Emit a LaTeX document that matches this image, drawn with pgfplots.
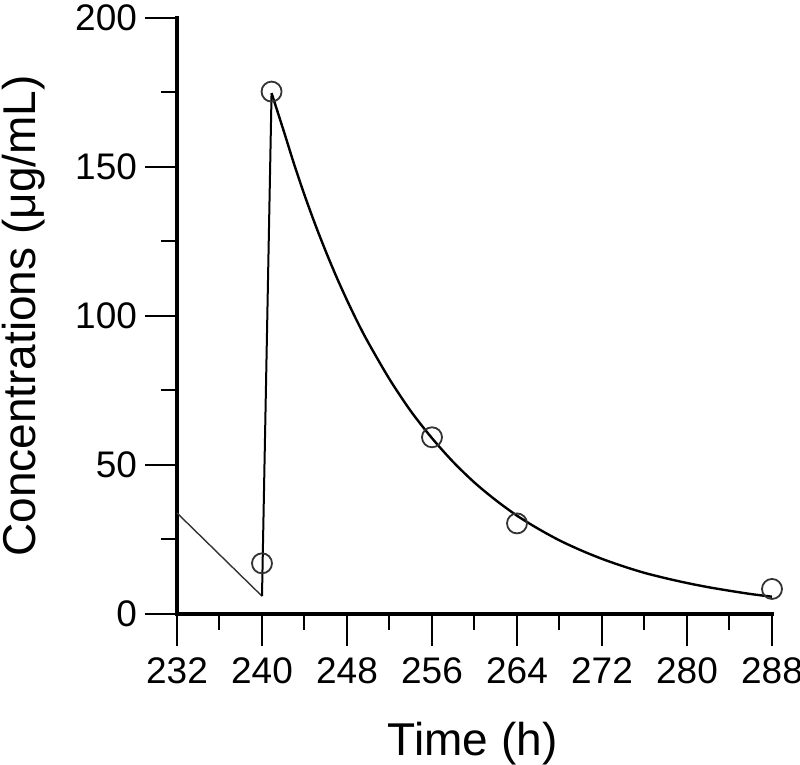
\documentclass[border=0pt]{standalone}
\usepackage{fontspec}
\setmainfont{Liberation Sans}
\usepackage{pgfplots}
\pgfplotsset{compat=1.18}

\begin{document}
\begin{tikzpicture}
  \useasboundingbox (-88.5pt,-75.5pt) rectangle (311.5pt,307pt);
  \begin{axis}[
      scale only axis,
      width=297.5pt,
      height=298pt,
      xmin=232, xmax=288,
      ymin=0, ymax=200,
      axis lines=left,
      axis line style={-, line width=1.75pt, line cap=rect},
      xtick={232,240,...,288},
      ytick={0,50,...,200},
      minor x tick num=1,
      minor y tick num=1,
      tick align=outside,
      major tick length=16pt,
      minor tick length=8pt,
      tick style={black, line width=1pt},
      tick label style={font=\fontsize{18.5}{22}\selectfont},
      xticklabel style={yshift=-2.5pt},
      yticklabel style={xshift=-0.5pt},
      /pgf/number format/assume math mode=true,
      xlabel={Time (h)},
      ylabel={Concentrations (μg/mL)},
      every axis x label/.style={at={(axis description cs:0.497,-0.2366)}, anchor=base,
        font=\fontsize{23}{27}\selectfont},
      every axis y label/.style={at={(axis description cs:-0.237,0.5)}, rotate=90, anchor=base,
        font=\fontsize{23}{27}\selectfont},
      clip=false,
    ]
    % pre-dose tail
    \addplot[black!80, line width=0.7pt] coordinates {(232,33.9) (240,6.0)};
    % infusion rise
    \addplot[black, line width=1pt] coordinates {(240,6.0) (240.9,174.8)};
    % post-dose decline
    \addplot[black, line width=1.2pt, smooth] coordinates {
      (240.9,174.8) (242,162.6) (243,151.2) (244,140.6) (245,130.8)
      (246,121.7) (247,113.2) (248,105.3) (249,97.9) (250,91.1)
      (252,78.8) (254,68.1) (256,59.0) (258,51.0) (260,44.1)
      (262,38.2) (264,33.0) (266,28.6) (268,24.7) (270,21.4)
      (272,18.5) (274,16.0) (276,13.8) (278,12.0) (280,10.4)
      (282,9.0) (284,7.8) (286,6.7) (288,5.8)};
    % observed concentrations
    \addplot[only marks, mark=o, mark size=5pt, mark options={black!80, line width=0.9pt}]
      coordinates {(240,17.0) (240.9,175.3) (256,59.3) (264,30.4) (288,8.4)};
  \end{axis}
\end{tikzpicture}
\end{document}
